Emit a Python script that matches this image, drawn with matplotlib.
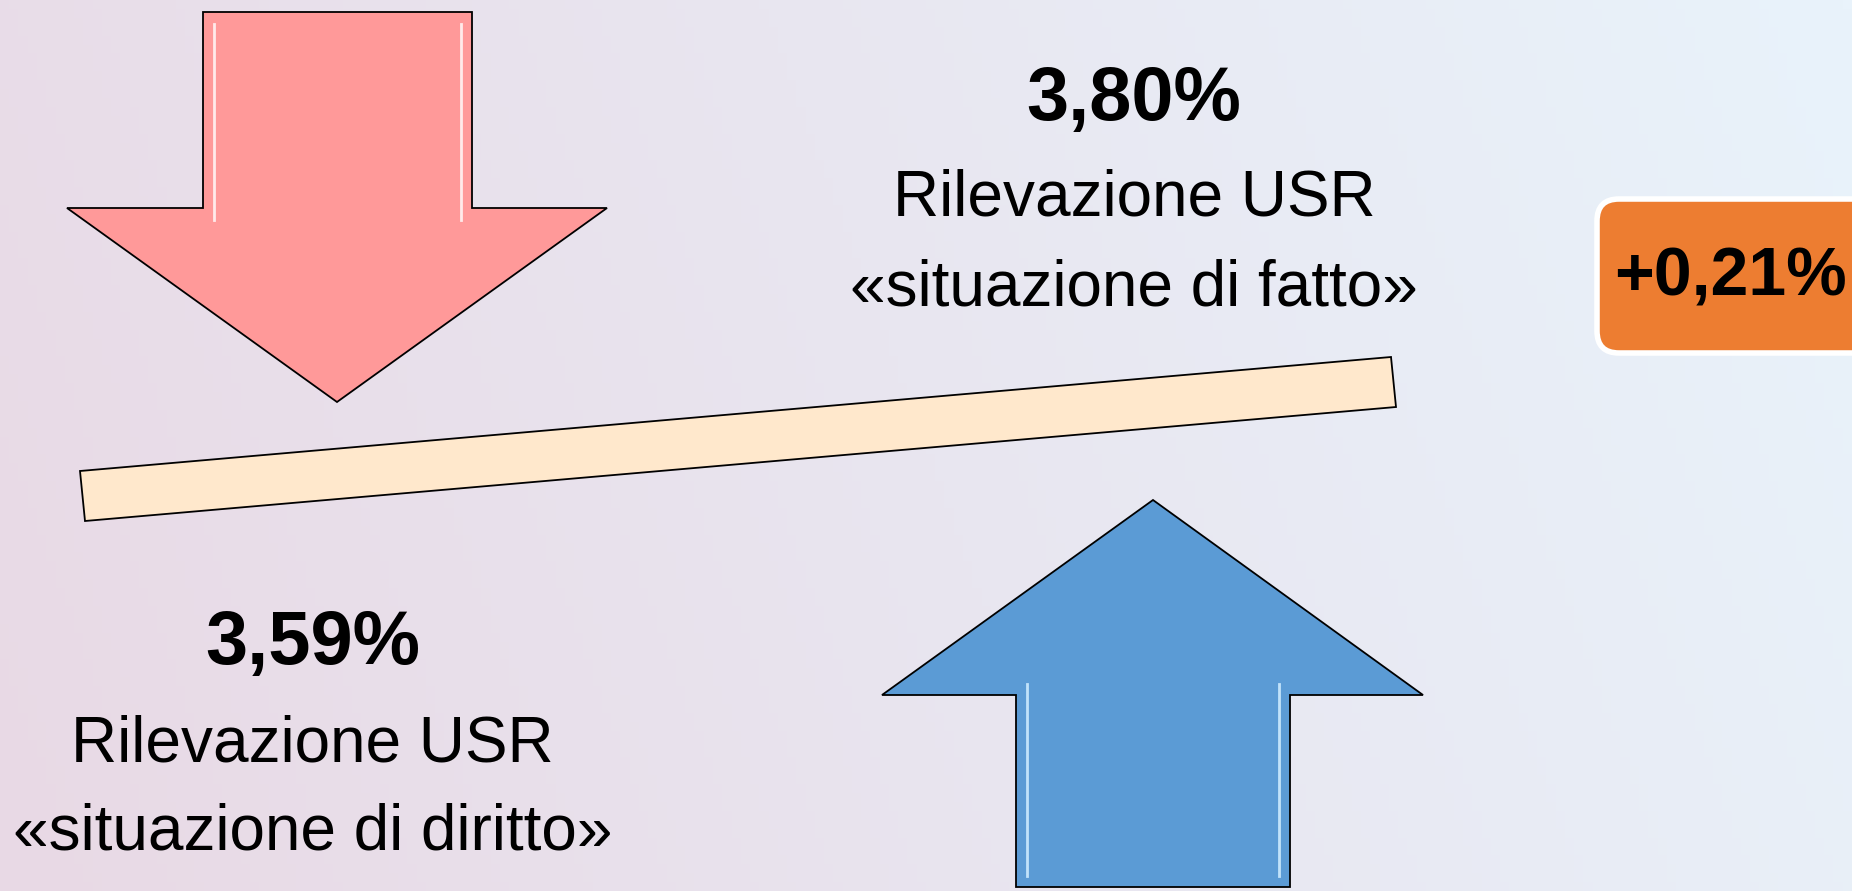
import numpy as np
import matplotlib
matplotlib.use("Agg")
import matplotlib.pyplot as plt
from matplotlib.patches import Polygon, FancyBboxPatch

plt.rcParams['font.family'] = ['Liberation Sans', 'DejaVu Sans']

# dati
valori = ["3,59%", "3,80%"]
righe_diritto = ["Rilevazione USR", "\u00absituazione di diritto\u00bb"]
righe_fatto = ["Rilevazione USR", "\u00absituazione di fatto\u00bb"]
differenza = "+0,21%"

W, H = 1852, 891
fig = plt.figure(figsize=(W / 100, H / 100), dpi=100)
ax = fig.add_axes([0, 0, 1, 1])
ax.set_xlim(0, W)
ax.set_ylim(H, 0)
ax.axis("off")

# sfondo sfumato (rosa a sinistra, azzurro a destra)
xx, yy = np.meshgrid(np.linspace(0, 1, 200), np.linspace(0, 1, 100))
t = np.clip(0.85 * xx + 0.15 * (1 - yy), 0, 1)
c0 = np.array([232, 217, 229]) / 255
c1 = np.array([233, 243, 251]) / 255
bg = c0[None, None, :] * (1 - t[..., None]) + c1[None, None, :] * t[..., None]
ax.imshow(bg, extent=[0, W, H, 0], aspect="auto", zorder=0)


def freccia(punti, colore):
    ax.add_patch(Polygon(punti, closed=True, facecolor=colore,
                         edgecolor="black", linewidth=1.3, zorder=2,
                         joinstyle="miter"))


# freccia rossa verso il basso
freccia([(203, 12), (472, 12), (472, 208), (607, 208), (337, 402),
         (67, 208), (203, 208)], "#FF9999")
for x in (214, 461):
    ax.plot([x, x], [24, 220], color="white", lw=2, alpha=0.8, zorder=3)

# freccia blu verso l'alto
freccia([(1016, 887), (1016, 695), (882, 695), (1153, 500), (1423, 695),
         (1290, 695), (1290, 887)], "#5B9BD5")
for x in (1027, 1279):
    ax.plot([x, x], [684, 876], color="#CDEBFF", lw=2, alpha=0.9, zorder=3)

# asse inclinata
ax.add_patch(Polygon([(80, 471), (1391, 357), (1396, 407), (85, 521)],
                     closed=True, facecolor="#FFE8CC", edgecolor="black",
                     linewidth=1.3, zorder=2))

# testi
ax.text(1134, 100, valori[1], ha="center", va="center", fontsize=54.5,
        fontweight="bold", zorder=4)
ax.text(1134, 198, righe_fatto[0], ha="center", va="center", fontsize=46,
        zorder=4)
ax.text(1134, 289, righe_fatto[1], ha="center", va="center", fontsize=46,
        zorder=4)

ax.text(313, 644, valori[0], ha="center", va="center", fontsize=54.5,
        fontweight="bold", zorder=4)
ax.text(312, 744, righe_diritto[0], ha="center", va="center", fontsize=46,
        zorder=4)
ax.text(313, 833, righe_diritto[1], ha="center", va="center", fontsize=46,
        zorder=4)

# riquadro arancione con la differenza
ax.add_patch(FancyBboxPatch((1597, 199), 300, 154,
                            boxstyle="round,pad=0,rounding_size=22",
                            facecolor="#ED7D31", edgecolor="white",
                            linewidth=4, zorder=3))
ax.text(1730, 278, differenza, ha="center", va="center", fontsize=49,
        fontweight="bold", zorder=4)

fig.savefig("out.png", dpi=100)
plt.close(fig)
